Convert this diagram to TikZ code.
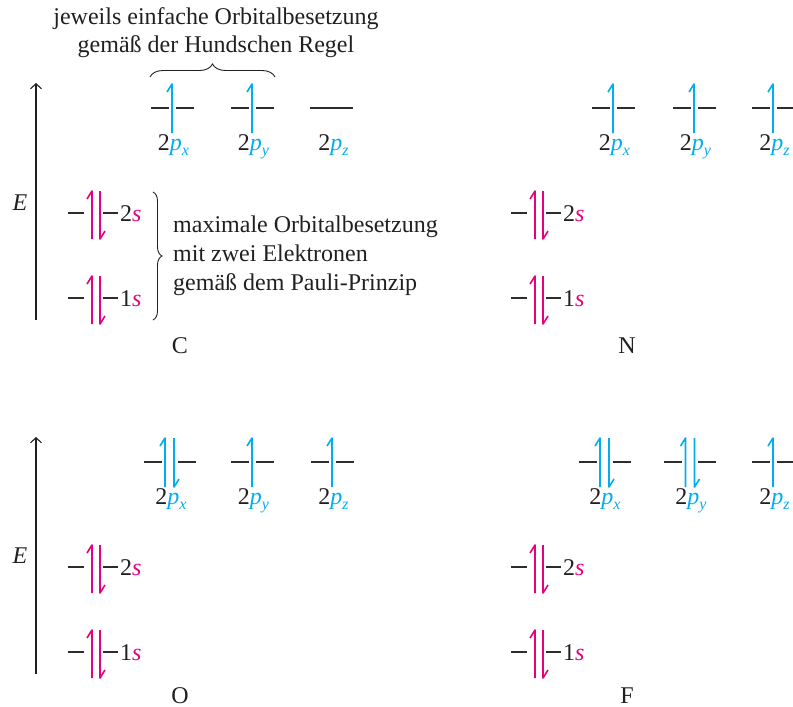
\documentclass[tikz,border=0pt]{standalone}
\usepackage{fontspec}
\setmainfont{Liberation Serif}
\usetikzlibrary{arrows.meta,decorations.pathreplacing}
\definecolor{pcyan}{RGB}{0,174,239}
\definecolor{smag}{RGB}{230,0,126}
\definecolor{levgray}{RGB}{45,45,45}
\definecolor{txt}{RGB}{35,31,32}
\newcommand\Sub[1]{\raisebox{-0.22em}{\fontsize{16}{16}\selectfont #1}}
\newcommand\plab[1]{2{\color{pcyan}\itshape p\Sub{#1}}}
\newcommand\slab[1]{#1{\color{smag}\itshape s}}
% harpoons: style, x, top, bottom
\newcommand\harpUp[4]{\draw[#1] (#2,#4) -- (#2,#3) -- ++(-5,8);}
\newcommand\harpDn[4]{\draw[#1] (#2,#3) -- (#2,#4) -- ++(5,-8);}
% s level: x0, y, name, number
\newcommand\slevel[4]{%
  \draw[lev] ({#1-1},{#2}) -- ++(16,0);
  \draw[lev] ({#1+34},{#2}) -- ++(15,0);
  \harpUp{sarr}{{#1+23}}{{#2-22}}{{#2+26}}
  \harpDn{sarr}{{#1+31}}{{#2-22}}{{#2+26}}
  \node[lbl, anchor=base west] (#3) at ({#1+51},{#2+8}) {\slab{#4}};}
% p levels: centre x, y
\newcommand\psingle[2]{%
  \draw[lev] ({#1-21},{#2}) -- ({#1-3},{#2});
  \draw[lev] ({#1+4},{#2}) -- ({#1+22},{#2});
  \harpUp{parr}{{#1}}{{#2-24}}{{#2+25}}}
\newcommand\pdouble[2]{%
  \draw[lev] ({#1-26},{#2}) -- ({#1-8},{#2});
  \draw[lev] ({#1+8},{#2}) -- ({#1+26},{#2});
  \harpUp{parr}{{#1-4.5}}{{#2-24}}{{#2+25}}
  \harpDn{parr}{{#1+4.5}}{{#2-24}}{{#2+25}}}
\newcommand\pempty[2]{%
  \draw[lev] ({#1-22},{#2}) -- ({#1+21},{#2});}
\tikzset{
  lev/.style={draw=levgray, line width=1.2pt},
  sarr/.style={draw=smag, line width=1.6pt, line join=round},
  parr/.style={draw=pcyan, line width=1.6pt, line join=round},
  lbl/.style={anchor=base, inner sep=0pt, text=txt},
  axisline/.style={draw=txt, line width=1.1pt, -{Straight Barb[length=5pt,width=11pt,line width=1.1pt]}},
  bracestyle/.style={draw=txt, line width=0.9pt, decorate},
}
\begin{document}
\begin{tikzpicture}[x=1pt, y=-1pt, font=\fontsize{24}{29}\selectfont, text=txt]
\useasboundingbox (0,0) rectangle (793,707);

% ---------- C ----------
\node[lbl] (hund1) at (216,24) {jeweils einfache Orbitalbesetzung};
\node[lbl] (hund2) at (216,52) {gemäß der Hundschen Regel};
\draw[bracestyle, decoration={brace, amplitude=13pt}] (150,77) -- (275,77);
\draw[axisline] (36,320) -- (36,83);
\node[lbl] (E1) at (20,210) {\itshape E};
\psingle{172}{108}
\psingle{252}{108}
\pempty{332}{108}
\node[lbl] (Cpx) at (173.5,150) {\plab{x}};
\node[lbl] (Cpy) at (253.5,150) {\plab{y}};
\node[lbl] (Cpz) at (333.5,150) {\plab{z}};
\slevel{69}{213}{C2s}{2}
\slevel{69}{298}{C1s}{1}
\draw[bracestyle, decoration={brace, amplitude=9pt}] (153,192) -- (153,320);
\node[lbl, anchor=base west] (pauli1) at (173,232) {maximale Orbitalbesetzung};
\node[lbl, anchor=base west] (pauli2) at (173,261) {mit zwei Elektronen};
\node[lbl, anchor=base west] (pauli3) at (173,290) {gemäß dem Pauli-Prinzip};
\node[lbl] (Clab) at (180,353) {C};

% ---------- N ----------
\psingle{613}{108}
\psingle{694}{108}
\psingle{773}{108}
\node[lbl] (Npx) at (614.5,150) {\plab{x}};
\node[lbl] (Npy) at (695.5,150) {\plab{y}};
\node[lbl] (Npz) at (774.5,150) {\plab{z}};
\slevel{512}{213}{N2s}{2}
\slevel{512}{298}{N1s}{1}
\node[lbl] (Nlab) at (627,353) {N};

% ---------- O ----------
\draw[axisline] (36,674) -- (36,437);
\node[lbl] (E2) at (20,563) {\itshape E};
\pdouble{169.5}{462}
\psingle{252}{462}
\psingle{332}{462}
\node[lbl] (Opx) at (171,504) {\plab{x}};
\node[lbl] (Opy) at (253.5,504) {\plab{y}};
\node[lbl] (Opz) at (333.5,504) {\plab{z}};
\slevel{69}{567}{O2s}{2}
\slevel{69}{652}{O1s}{1}
\node[lbl] (Olab) at (180,703) {O};

% ---------- F ----------
\pdouble{604.5}{462}
\pdouble{690}{462}
\psingle{773}{462}
\node[lbl] (Fpx) at (605,504) {\plab{x}};
\node[lbl] (Fpy) at (691,504) {\plab{y}};
\node[lbl] (Fpz) at (774.5,504) {\plab{z}};
\slevel{512}{567}{F2s}{2}
\slevel{512}{652}{F1s}{1}
\node[lbl] (Flab) at (627,703) {F};
\end{tikzpicture}
\end{document}
